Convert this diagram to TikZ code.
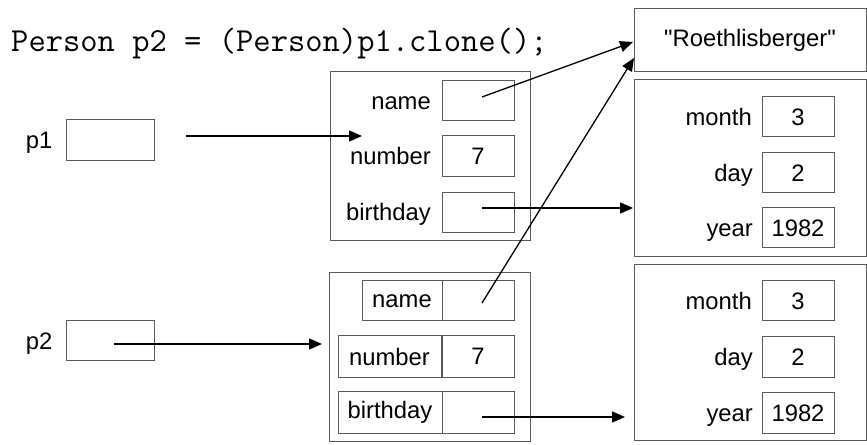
\documentclass[tikz,border=0pt]{standalone}
\usepackage{fontspec}
\setmainfont{Liberation Sans}
% same face without the TeX quote ligatures, for straight double quotes
\newfontfamily\plainquotes{Liberation Sans}[Ligatures=TeXOff]
\usetikzlibrary{arrows.meta}

\definecolor{boxline}{RGB}{88,88,88}

\tikzset{
  cell/.style={draw=boxline, line width=1bp, rectangle, inner sep=0pt,
    minimum width=#1, font=\fontsize{23.8bp}{28bp}\selectfont},
  cell/.default=72bp,
  frame/.style={draw=boxline, line width=1bp, rectangle, inner sep=0pt},
  fieldlabel/.style={inner sep=0pt, anchor=base east,
    font=\fontsize{23.8bp}{28bp}\selectfont},
  ref/.style={-{Triangle[length=13bp,width=11bp]}, line width=1.3bp, black},
}

\begin{document}
\begin{tikzpicture}[x=1bp, y=-1bp]
\useasboundingbox (0,0) rectangle (867,445);

% statement being illustrated
\node[inner sep=0pt, anchor=base west, font=\ttfamily\fontsize{33.6bp}{36bp}\selectfont]
  (code) at (11,52) {Person p2 = (Person)p1.clone();};

% reference variables
\node[frame, minimum width=88bp, minimum height=41bp] (p1box) at (110,140.5) {};
\node[fieldlabel] (p1lbl) at (52.5,149) {p1};
\node[frame, minimum width=88bp, minimum height=40bp] (p2box) at (110,341) {};
\node[fieldlabel] (p2lbl) at (52.5,349.5) {p2};

% original Person object
\node[frame, minimum width=200bp, minimum height=169bp] (obj1) at (430,156.5) {};
\node[cell, minimum height=40bp] (name1) at (478,101) {};
\node[cell, minimum height=41bp] (num1) at (478,156.5) {7};
\node[cell, minimum height=40bp] (bday1) at (478,212.5) {};
\node[fieldlabel] (name1lbl) at (431,109.5) {name};
\node[fieldlabel] (num1lbl) at (431,165) {number};
\node[fieldlabel] (bday1lbl) at (431,221) {birthday};

% cloned Person object
\node[frame, minimum width=201bp, minimum height=168bp] (obj2) at (429.5,357) {};
\node[cell=80bp, minimum height=40bp] (name2lbl) at (402,301) {name};
\node[cell, minimum height=40bp] (name2) at (478,301) {};
\node[cell=103bp, minimum height=41bp] (num2lbl) at (389.5,356.5) {number};
\node[cell, minimum height=41bp] (num2) at (478,356.5) {7};
\node[cell=104bp, minimum height=41bp] (bday2lbl) at (390,412.5) {birthday};
\node[cell, minimum height=41bp] (bday2) at (478,412.5) {};

% shared String object
\node[frame, minimum width=232bp, minimum height=63bp,
  font=\plainquotes\fontsize{23.8bp}{28bp}\selectfont] (str) at (750,40.5)
  {"Roethlisberger"};

% first Date object
\node[frame, minimum width=232bp, minimum height=177bp] (date1) at (750,168.5) {};
\node[cell, minimum height=40bp] (mon1) at (798,117) {3};
\node[cell, minimum height=40bp] (day1) at (798,173) {2};
\node[cell, minimum height=40bp] (yr1) at (798,228) {1982};
\node[fieldlabel] (mon1lbl) at (752,125.5) {month};
\node[fieldlabel] (day1lbl) at (753,181.5) {day};
\node[fieldlabel] (yr1lbl) at (753,236.5) {year};

% second Date object
\node[frame, minimum width=232bp, minimum height=175bp] (date2) at (750,352.5) {};
\node[cell, minimum height=40bp] (mon2) at (798,301) {3};
\node[cell, minimum height=40bp] (day2) at (798,357) {2};
\node[cell, minimum height=40bp] (yr2) at (798,413) {1982};
\node[fieldlabel] (mon2lbl) at (752,309.5) {month};
\node[fieldlabel] (day2lbl) at (753,365.5) {day};
\node[fieldlabel] (yr2lbl) at (753,421.5) {year};

% connector end points
\coordinate (p1from) at (186,136);
\coordinate (p1to) at (362,136);
\coordinate (p2from) at (114,344);
\coordinate (p2to) at (322,344);
\coordinate (n1from) at (482,97);
\coordinate (n2from) at (482,303);
\coordinate (b1from) at (482,208);
\coordinate (b2from) at (482,417);
\coordinate (strhit1) at (633,42);
\coordinate (strhit2) at (634,58);
\coordinate (d1hit) at (633,208);
\coordinate (d2hit) at (625,417);

% references
\draw[ref] (p1from) -- (p1to);
\draw[ref] (p2from) -- (p2to);
\draw[ref] (n1from) -- (strhit1);
\draw[ref] (n2from) -- (strhit2);
\draw[ref] (b1from) -- (d1hit);
\draw[ref] (b2from) -- (d2hit);
\end{tikzpicture}
\end{document}
